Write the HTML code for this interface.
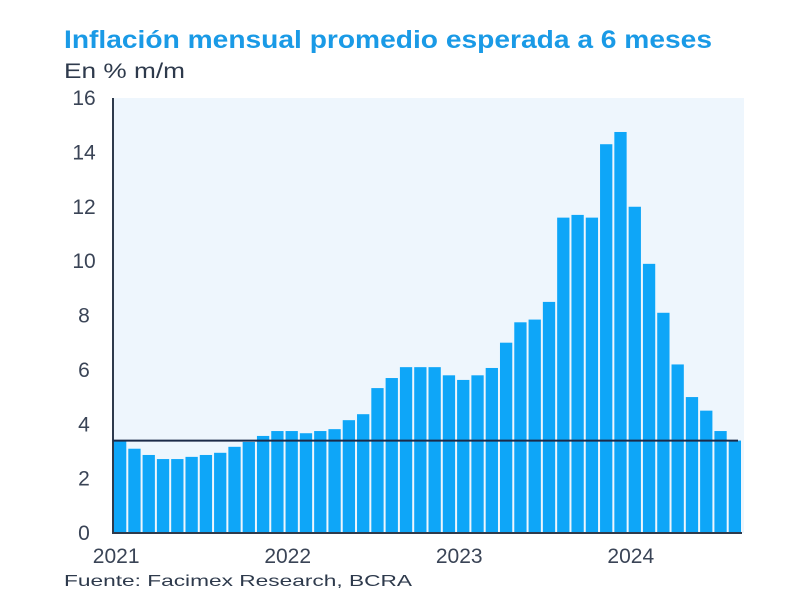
<!DOCTYPE html>
<html><head><meta charset="utf-8"><style>
body{margin:0;background:#fff;width:800px;height:605px;overflow:hidden;font-family:"Liberation Sans",sans-serif}
</style></head><body>
<svg id="c" width="800" height="605" xmlns="http://www.w3.org/2000/svg">
<text x="64" y="48" font-size="25" font-weight="bold" fill="#1a9ae6" textLength="648" lengthAdjust="spacingAndGlyphs">Inflación mensual promedio esperada a 6 meses</text>
<text x="64" y="78" font-size="21" fill="#2e3a4c" textLength="121" lengthAdjust="spacingAndGlyphs">En % m/m</text>
<rect x="114" y="98" width="630" height="435" fill="#eef6fd"/>
<g id="bars"></g><g id="yt"></g><g id="xt"></g>
<text x="64" y="586" font-size="16" fill="#2e3a4c" textLength="348" lengthAdjust="spacingAndGlyphs">Fuente: Facimex Research, BCRA</text>
</svg>
<script>
const values=[3.4,3.1,2.87,2.72,2.72,2.8,2.87,2.95,3.17,3.35,3.57,3.75,3.75,3.67,3.75,3.82,4.15,4.37,5.33,5.7,6.1,6.1,6.1,5.8,5.63,5.8,6.07,7.0,7.75,7.85,8.5,11.6,11.7,11.6,14.3,14.75,12.0,9.9,8.1,6.2,5.0,4.5,3.75,3.4];
const yTicks=[0,2,4,6,8,10,12,14,16];
const yearLabels=["2021","2022","2023","2024"];
const yearIndex=[0,12,24,36];
const refValue=3.4;
const NS="http://www.w3.org/2000/svg";
const x0=113,x1=742,y0=533,y1=98,ymax=16;
const bw=(x1-x0)/values.length;
const y=v=>y0-(v/ymax)*(y0-y1);
const xb=i=>x0+i*bw;
function mk(t,a,p){const e=document.createElementNS(NS,t);for(const k in a)e.setAttribute(k,a[k]);p.appendChild(e);return e;}
const svg=document.getElementById('c');
const bars=document.getElementById('bars');
values.forEach((v,i)=>{const r=mk('rect',{x:xb(i)+1,y:y(v),width:bw-2,height:y0-y(v),fill:'#0ea6f8'},bars);

});
const yt=document.getElementById('yt');
yTicks.forEach(t=>{const e=mk('text',{x:84,y:y(t)+7,'font-size':21,fill:'#3a4456','text-anchor':'middle'},yt);e.textContent=t;

});
const xt=document.getElementById('xt');
yearLabels.forEach((l,k)=>{const e=mk('text',{x:xb(yearIndex[k])+bw/2-4,y:563,'font-size':21,fill:'#3a4456','text-anchor':'middle'},xt);e.textContent=l;

});
const ax=mk('line',{x1:x0,y1:y1,x2:x0,y2:y0+1,stroke:'#2e3a4c','stroke-width':2},svg);


const bx=mk('line',{x1:x0,y1:y0,x2:x1,y2:y0,stroke:'#2e3a4c','stroke-width':2},svg);


const rl=mk('line',{x1:x0,y1:y(refValue),x2:x1-4,y2:y(refValue),stroke:'#1b2a48','stroke-width':2},svg);


</script>
</body></html>
